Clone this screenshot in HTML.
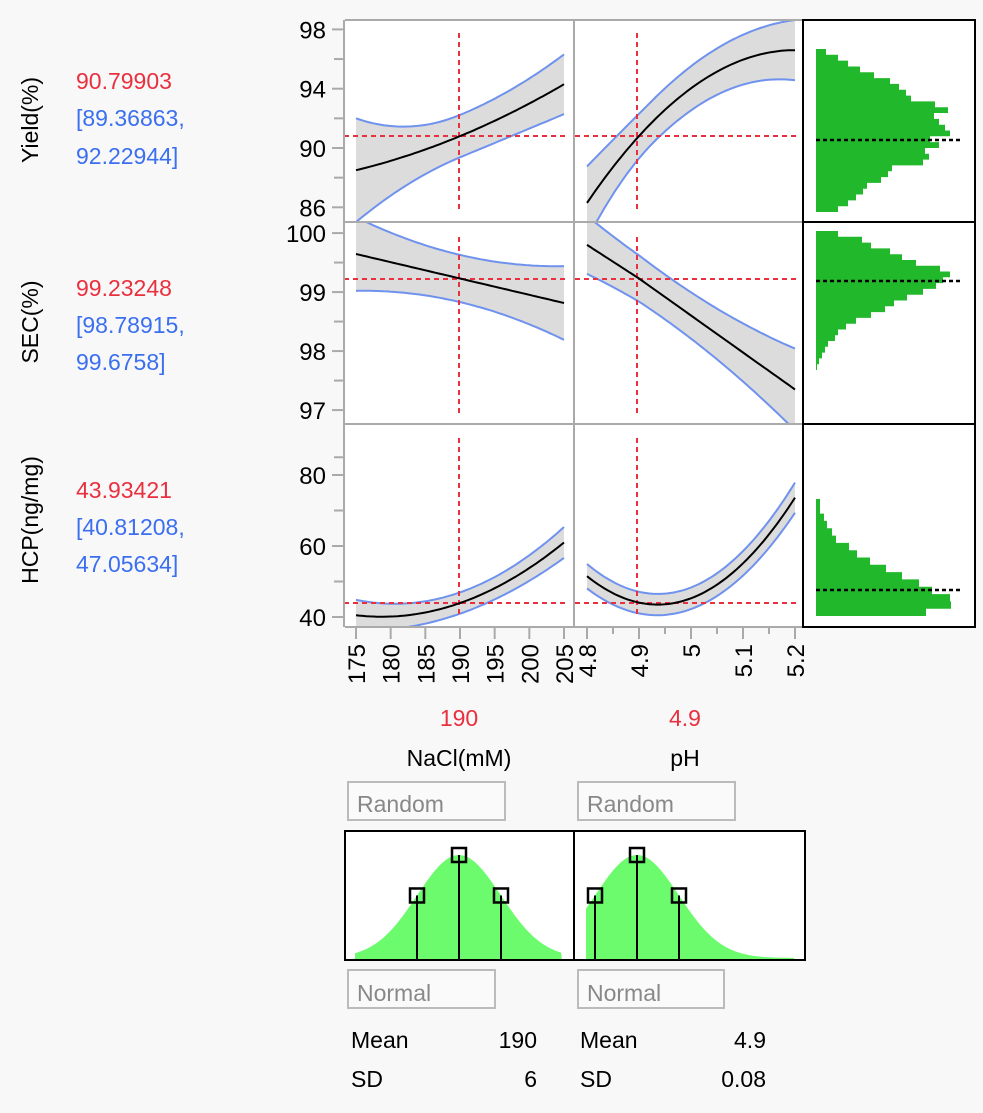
<!DOCTYPE html>
<html><head><meta charset="utf-8"><style>
body{margin:0;background:#f8f8f8;}
svg{display:block;font-family:"Liberation Sans","DejaVu Sans",sans-serif;}
</style></head><body>
<svg id="s" width="983" height="1113" xmlns="http://www.w3.org/2000/svg">
<rect width="983" height="1113" fill="#f8f8f8"/>
<defs>
<clipPath id="c11"><rect x="345" y="20" width="229" height="202"/></clipPath>
<clipPath id="c12"><rect x="574" y="20" width="229" height="202"/></clipPath>
<clipPath id="c21"><rect x="345" y="222" width="229" height="202"/></clipPath>
<clipPath id="c22"><rect x="574" y="222" width="229" height="202"/></clipPath>
<clipPath id="c31"><rect x="345" y="424" width="229" height="203"/></clipPath>
<clipPath id="c32"><rect x="574" y="424" width="229" height="203"/></clipPath>
</defs>
<rect x="345" y="20" width="458" height="607" fill="#fff"/>
<rect x="803" y="20" width="172" height="607" fill="#fff"/>
<g id="plots"></g>
<g fill="none">
<line x1="345" y1="20" x2="803" y2="20" stroke="#aaa" stroke-width="2"/>
<line x1="345" y1="222" x2="803" y2="222" stroke="#aaa" stroke-width="2"/>
<line x1="345" y1="424" x2="803" y2="424" stroke="#aaa" stroke-width="2"/>
<line x1="345" y1="627" x2="803" y2="627" stroke="#aaa" stroke-width="2"/>
<line x1="344" y1="20" x2="344" y2="627" stroke="#aaa" stroke-width="2"/>
<line x1="574" y1="20" x2="574" y2="627" stroke="#aaa" stroke-width="2"/>
<rect x="803" y="20" width="172" height="607" stroke="#000" stroke-width="2"/>
<line x1="803" y1="222" x2="975" y2="222" stroke="#000" stroke-width="2"/>
<line x1="803" y1="424" x2="975" y2="424" stroke="#000" stroke-width="2"/>
</g>
<g id="axes"></g>
<g font-size="23">
<text transform="translate(38,120) rotate(-90)" text-anchor="middle">Yield(%)</text>
<text transform="translate(38,322) rotate(-90)" text-anchor="middle">SEC(%)</text>
<text transform="translate(38,520) rotate(-90)" text-anchor="middle">HCP(ng/mg)</text>
<text x="76" y="89" fill="#e8303f">90.79903</text>
<text x="76" y="126" fill="#3b6ff0">[89.36863,</text>
<text x="76" y="164" fill="#3b6ff0">92.22944]</text>
<text x="76" y="296" fill="#e8303f">99.23248</text>
<text x="76" y="333" fill="#3b6ff0">[98.78915,</text>
<text x="76" y="370" fill="#3b6ff0">99.6758]</text>
<text x="76" y="498" fill="#e8303f">43.93421</text>
<text x="76" y="535" fill="#3b6ff0">[40.81208,</text>
<text x="76" y="572" fill="#3b6ff0">47.05634]</text>
<text x="459" y="726" fill="#e8303f" text-anchor="middle">190</text>
<text x="685" y="726" fill="#e8303f" text-anchor="middle">4.9</text>
<text x="459" y="766" text-anchor="middle">NaCl(mM)</text>
<text x="685" y="766" text-anchor="middle">pH</text>
</g>
<g font-size="23" fill="#888">
<rect x="348" y="782" width="157" height="38" fill="#fafafa" stroke="#bbb" stroke-width="2"/>
<rect x="578" y="782" width="157" height="38" fill="#fafafa" stroke="#bbb" stroke-width="2"/>
<text x="357" y="812">Random</text><text x="587" y="812">Random</text>
<rect x="348" y="970" width="147" height="38" fill="#fafafa" stroke="#bbb" stroke-width="2"/>
<rect x="578" y="970" width="146" height="38" fill="#fafafa" stroke="#bbb" stroke-width="2"/>
<text x="357" y="1001">Normal</text><text x="587" y="1001">Normal</text>
</g>
<rect x="345" y="831" width="460" height="129" fill="#fff"/>
<g id="dist"></g>
<rect x="345" y="831" width="460" height="129" fill="none" stroke="#000" stroke-width="2"/>
<line x1="574" y1="831" x2="574" y2="960" stroke="#000" stroke-width="2"/>
<g font-size="23">
<text x="351" y="1048">Mean</text><text x="537" y="1048" text-anchor="end">190</text>
<text x="351" y="1087">SD</text><text x="537" y="1087" text-anchor="end">6</text>
<text x="580" y="1048">Mean</text><text x="766" y="1048" text-anchor="end">4.9</text>
<text x="580" y="1087">SD</text><text x="766" y="1087" text-anchor="end">0.08</text>
</g>
</svg>
<script>
var NS="http://www.w3.org/2000/svg";
function el(p,t,a,txt){var e=document.createElementNS(NS,t);for(var k in a)e.setAttribute(k,a[k]);if(txt!==undefined)e.textContent=txt;p.appendChild(e);return e;}
var plots=document.getElementById("plots"),axes=document.getElementById("axes"),dist=document.getElementById("dist");
var X1=function(v){return 356+(v-175)*(564-356)/30;};
var X2=function(v){return 587+(v-4.8)*(795-587)/0.4;};
var Y1=function(v){return 148-(v-90)*59.3/4;};
var Y2=function(v){return 278.5-(v-99.23)*59;};
var Y3=function(v){return 617-(v-40)*3.55;};
function draw(clip,X,Y,a,b,f,hw,vx,hy,ytop,ybot){
 var g=el(plots,"g",{"clip-path":"url(#"+clip+")"});
 var up=[],lo=[],mid=[];
 for(var i=0;i<=60;i++){var v=a+(b-a)*i/60;var m=f(v),h=hw(v);
  mid.push(X(v).toFixed(1)+","+Y(m).toFixed(1));up.push(X(v).toFixed(1)+","+Y(m+h).toFixed(1));lo.push(X(v).toFixed(1)+","+Y(m-h).toFixed(1));}
 el(g,"polygon",{points:up.concat(lo.slice().reverse()).join(" "),fill:"#dcdcdc"});
 el(g,"polyline",{points:up.join(" "),fill:"none",stroke:"#6f92ee","stroke-width":2});
 el(g,"polyline",{points:lo.join(" "),fill:"none",stroke:"#6f92ee","stroke-width":2});
 el(g,"line",{x1:X(a)-12,y1:hy,x2:X(b)+2,y2:hy,stroke:"#e8303f","stroke-width":2,"stroke-dasharray":"5,4"});
 el(g,"line",{x1:vx,y1:ytop,x2:vx,y2:ybot,stroke:"#e8303f","stroke-width":2,"stroke-dasharray":"5,4"});
 el(g,"polyline",{points:mid.join(" "),fill:"none",stroke:"#000","stroke-width":2});
}
draw("c11",X1,Y1,175,205,function(v){var t=v-190;return 90.8+0.1933*t+0.00267*t*t;},function(v){var t=v-190;return t<0?1.43+0.0092*t*t:1.43+0.0026*t*t;},459,136,33,213);
draw("c12",X2,Y1,4.8,5.2,function(v){return 96.6-64.4*(5.2-v)*(5.2-v);},function(v){var d=v-4.93;return d<0?1.45+60*d*d:1.45+8*d*d;},637,136,33,213);
draw("c21",X1,Y2,175,205,function(v){return 99.23-(v-190)*0.0277;},function(v){var t=v-190;return 0.4+0.001*t*t;},459,279,237,415);
draw("c22",X2,Y2,4.8,5.2,function(v){return v<4.9?99.23-(v-4.9)*5.7:99.23-(v-4.9)*6.27;},function(v){var d=v-4.95;return 0.38+5*d*d;},637,279,237,415);
draw("c31",X1,Y3,175,205,function(v){var t=v-190;return 43.93+0.683*t+0.0303*t*t;},function(v){var t=v-190;return 3+0.006*t*t;},459,603,438,617);
draw("c32",X2,Y3,4.8,5.2,function(v){return 43.5+432*(v-4.936)*(v-4.936);},function(v){var d=v-4.95;return 3+20*d*d;},637,603,438,617);
function yaxis(Y,majors,minors){
 majors.forEach(function(m){var y=Y(m);el(axes,"line",{x1:332,y1:y,x2:344,y2:y,stroke:"#aaa","stroke-width":2});el(axes,"text",{x:326,y:y+9,"text-anchor":"end","font-size":24},String(m));});
 minors.forEach(function(m){var y=Y(m);el(axes,"line",{x1:334,y1:y,x2:344,y2:y,stroke:"#aaa","stroke-width":2});});
}
yaxis(Y1,[98,94,90,86],[96,92,88]);
yaxis(Y2,[100,99,98,97],[99.5,98.5,97.5]);
yaxis(Y3,[80,60,40],[85,70,50]);
function xtick(x,lab,len){el(axes,"line",{x1:x,y1:627,x2:x,y2:627+len,stroke:"#aaa","stroke-width":2});
 if(lab)el(axes,"text",{transform:"translate("+(x+9)+",644) rotate(-90)","text-anchor":"end","font-size":24},lab);}
[175,180,185,190,195,200,205].forEach(function(v){xtick(X1(v),String(v),12);});
[4.8,4.9,5,5.1,5.2].forEach(function(v){xtick(X2(v),String(v),12);});
[4.85,4.95,5.05,5.15].forEach(function(v){xtick(X2(v),null,7);});
function hist(y0,y1,rights,dy){var n=rights.length,h=(y1-y0)/n;
 var pts=["816,"+y0];for(var i=0;i<n;i++){pts.push(rights[i]+","+(y0+i*h).toFixed(1));pts.push(rights[i]+","+(y0+(i+1)*h).toFixed(1));}
 pts.push("816,"+y1);el(plots,"polygon",{points:pts.join(" "),fill:"#22b82c"});
 el(plots,"line",{x1:816,y1:dy,x2:962,y2:dy,stroke:"#000","stroke-width":2.5,"stroke-dasharray":"4,3"});}
hist(49,212,[826,838,848,860,874,890,899,906,911,935,948,934,939,945,950,930,939,925,929,923,892,888,881,867,863,856,848,838],140);
hist(231,370,[838,862,871,890,902,916,940,950,943,936,923,907,894,885,871,856,846,838,835,828,825,822,819,817],281);
hist(499,616,[820,820,824,827,832,836,849,857,870,886,902,919,932,950,951,926],590);
function ncurve(mu,sig,xa,xb){var pts=[];var base=958;
 pts.push(xa+",960");
 for(var x=xa;x<=xb;x+=2){var y=base-103*Math.exp(-0.5*Math.pow((x-mu)/sig,2));pts.push(x+","+y.toFixed(1));}
 pts.push(xb+",960");el(dist,"polygon",{points:pts.join(" "),fill:"#6cfb6c"});
 [[mu-sig,0.607],[mu,1],[mu+sig,0.607]].forEach(function(p){var y=base-103*p[1];
  el(dist,"line",{x1:p[0],y1:y,x2:p[0],y2:960,stroke:"#000","stroke-width":2});
  el(dist,"rect",{x:p[0]-7,y:y-7,width:14,height:14,fill:"none",stroke:"#000","stroke-width":2.5});});}
ncurve(459,42,355,562);
ncurve(637,42,586,795);
</script>
</body></html>
